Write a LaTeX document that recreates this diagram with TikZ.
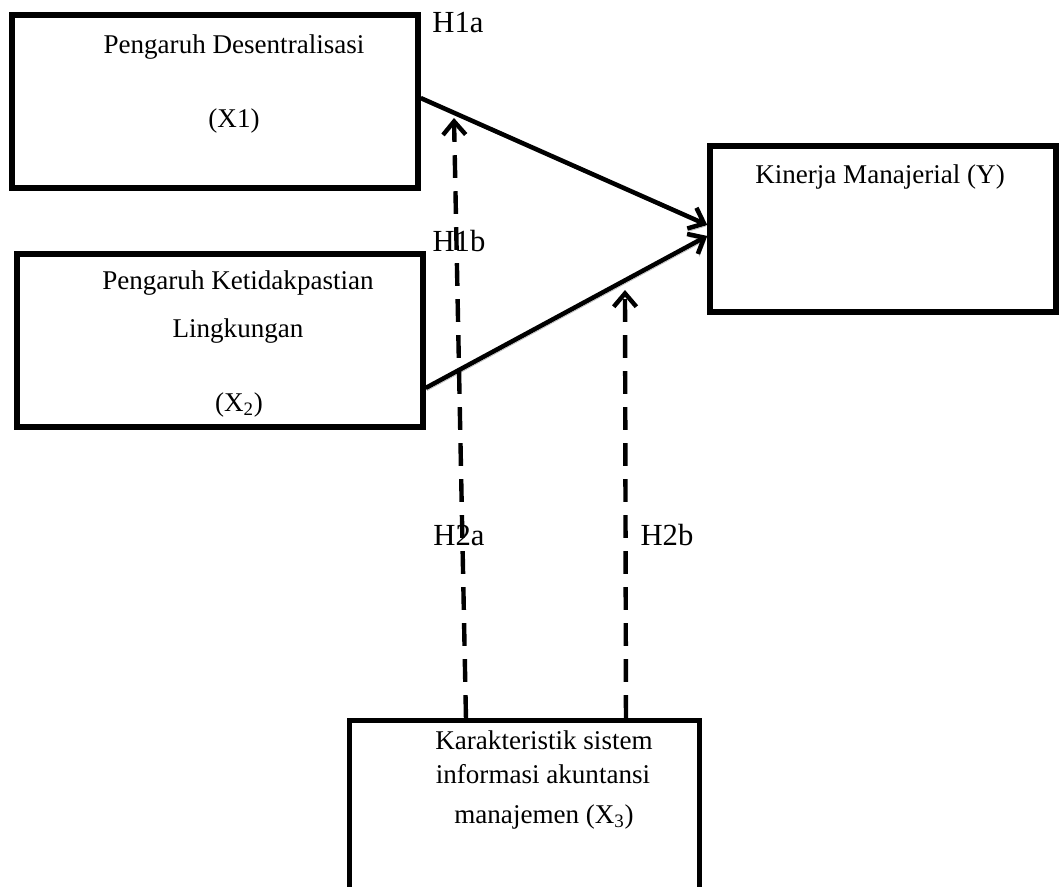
\documentclass[tikz,border=0pt]{standalone}
\usepackage{fontspec}
\setmainfont{Liberation Serif}
\usetikzlibrary{arrows.meta}
\tikzset{
    box/.style = {rectangle, draw=black, line width=4.1pt, inner sep=0pt},
    txt/.style = {inner sep=0pt, anchor=base, font=\fontsize{20.3}{24}\selectfont},
    hyp/.style = {inner sep=0pt, anchor=base, font=\fontsize{23}{27}\selectfont},
    main_arrow/.style = {->, line width=3.4pt, preaction={draw=black!30, transform canvas={shift={(1pt,-2pt)}}}},
    mod_arrow/.style = {->, line width=3.3pt, dash pattern=on 17pt off 10pt}
}

\begin{document}
\begin{tikzpicture}[x=0.75pt, y=-0.75pt, >={Straight Barb[length=10pt, width=17pt]}]
    \useasboundingbox (0,0) rectangle (1061,886);
    \node[box, minimum width=304.5pt, minimum height=129.75pt] (x1) at (215,101.5) {};
    \node[box, minimum width=304.5pt, minimum height=129.75pt] (x2) at (220,340.5) {};
    \node[box, minimum width=259.5pt, minimum height=124.5pt] (y) at (883,229) {};
    \node[box, minimum width=262.5pt, minimum height=127.1pt] (x3) at (524.5,805.25) {};

    \node[txt] (x1a) at (234,53) {Pengaruh Desentralisasi};
    \node[txt] (x1b) at (234,127) {(X1)};
    \node[txt] (x2a) at (238,289) {Pengaruh Ketidakpastian};
    \node[txt] (x2b) at (238,337) {Lingkungan};
    \node[txt] (x2c) at (239,411) {(X\textsubscript{2})};
    \node[txt] (ya) at (880,183) {Kinerja Manajerial (Y)};
    \node[txt] (x3a) at (544,749) {Karakteristik sistem};
    \node[txt] (x3b) at (543,783) {informasi akuntansi};
    \node[txt] (x3c) at (544,823) {manajemen (X\textsubscript{3})};

    \node[hyp] (h1a) at (458,32) {H1a};
    \node[hyp] (h1b) at (459,251) {H1b};
    \node[hyp] (h2a) at (459,545) {H2a};
    \node[hyp] (h2b) at (667,545) {H2b};

    \coordinate (m1) at (454,118);
    \coordinate (m2) at (625,290);

    \draw[main_arrow] ([yshift=2.6pt]x1.east) -- ([yshift=3pt]y.west);
    \draw[main_arrow] ([yshift=-35.6pt]x2.east) -- ([yshift=-5.2pt]y.west);
    \draw[mod_arrow] ([xshift=-43.9pt]x3.north) -- (m1);
    \draw[mod_arrow] ([xshift=76.1pt]x3.north) -- (m2);
\end{tikzpicture}
\end{document}
